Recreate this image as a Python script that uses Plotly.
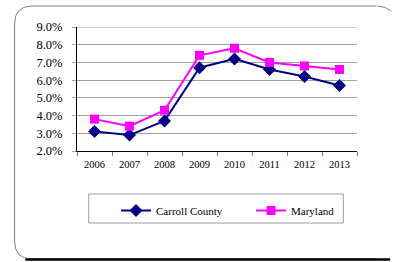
import plotly.graph_objects as go

years = ["2006", "2007", "2008", "2009", "2010", "2011", "2012", "2013"]
carroll = [3.1, 2.9, 3.7, 6.7, 7.2, 6.6, 6.2, 5.7]
maryland = [3.8, 3.4, 4.3, 7.4, 7.8, 7.0, 6.8, 6.6]
y_ticks = [2, 3, 4, 5, 6, 7, 8, 9]

W, H = 398, 262
L, R, T, B = 77, 364, 27, 151

def px(x):
    return (x - L) / (R - L)

def py(y):
    return (B - y) / (B - T)

SERIF = "Liberation Serif, Times New Roman, serif"

fig = go.Figure()
fig.add_trace(go.Scatter(x=years, y=carroll, name="Carroll County", mode="lines+markers",
                         line=dict(color="#000080", width=2),
                         marker=dict(symbol="diamond", size=10, color="#000080")))
fig.add_trace(go.Scatter(x=years, y=maryland, name="Maryland", mode="lines+markers",
                         line=dict(color="#FF00FF", width=2),
                         marker=dict(symbol="square", size=9, color="#FF00FF")))

# rounded frame
r = 18
x0, y0, x1, y1 = 13, 6, 402, 259
path = (f"M {px(x1-r)},{py(y0)} L {px(x0+r)},{py(y0)} "
        f"Q {px(x0)},{py(y0)} {px(x0)},{py(y0+r)} "
        f"L {px(x0)},{py(y1-r)} Q {px(x0)},{py(y1)} {px(x0+r)},{py(y1)} "
        f"L {px(x1-r)},{py(y1)}")
fig.add_shape(type="path", path=path, xref="paper", yref="paper",
              line=dict(color="#808080", width=1), layer="below")
fig.add_shape(type="line", xref="paper", yref="paper",
              x0=px(24), x1=px(398), y0=py(259.5), y1=py(259.5),
              line=dict(color="black", width=2.5))
fig.add_shape(type="path", xref="paper", yref="paper",
              path=f"M {px(385)},{py(6)} Q {px(393)},{py(6)} {px(399)},{py(11)}",
              line=dict(color="#808080", width=1))
# legend box
fig.add_shape(type="rect", xref="paper", yref="paper",
              x0=px(89), x1=px(350), y0=py(194), y1=py(223),
              line=dict(color="#a0a0a0", width=1))
# top gridline lighter
fig.add_shape(type="line", xref="paper", yref="y", x0=0, x1=1, y0=9, y1=9,
              line=dict(color="#d0d0d0", width=2), layer="below")

fig.update_layout(
    width=W, height=H,
    margin=dict(l=L, r=W - R, t=T, b=H - B),
    paper_bgcolor="white", plot_bgcolor="white",
    font=dict(family=SERIF, color="black"),
    showlegend=True,
    legend=dict(orientation="h", x=px(117), y=py(196), xanchor="left", yanchor="top",
                borderwidth=0, bgcolor="rgba(0,0,0,0)", font=dict(size=11, family=SERIF),
                entrywidth=90, entrywidthmode="pixels"),
    xaxis=dict(type="category", showgrid=False, showline=True, linecolor="black",
               linewidth=1, ticks="outside", tickson="boundaries", ticklen=4,
               tickcolor="#808080", tickfont=dict(size=10.5, family=SERIF),
               ticklabelstandoff=3, range=[-0.5, 7.5]),
    yaxis=dict(range=[2, 9], tickvals=y_ticks, ticktext=[f"{v:.1f}%" for v in y_ticks],
               showgrid=True, gridcolor="#a0a0a0", gridwidth=1, showline=True,
               linecolor="black", linewidth=1, ticks="outside", ticklen=4,
               tickcolor="#a0a0a0", tickfont=dict(size=12.5, family=SERIF),
               ticklabelstandoff=7, zeroline=False),
)

fig.write_html("out.html", config={"displayModeBar": False},
               post_script="document.body.style.margin='0';")
